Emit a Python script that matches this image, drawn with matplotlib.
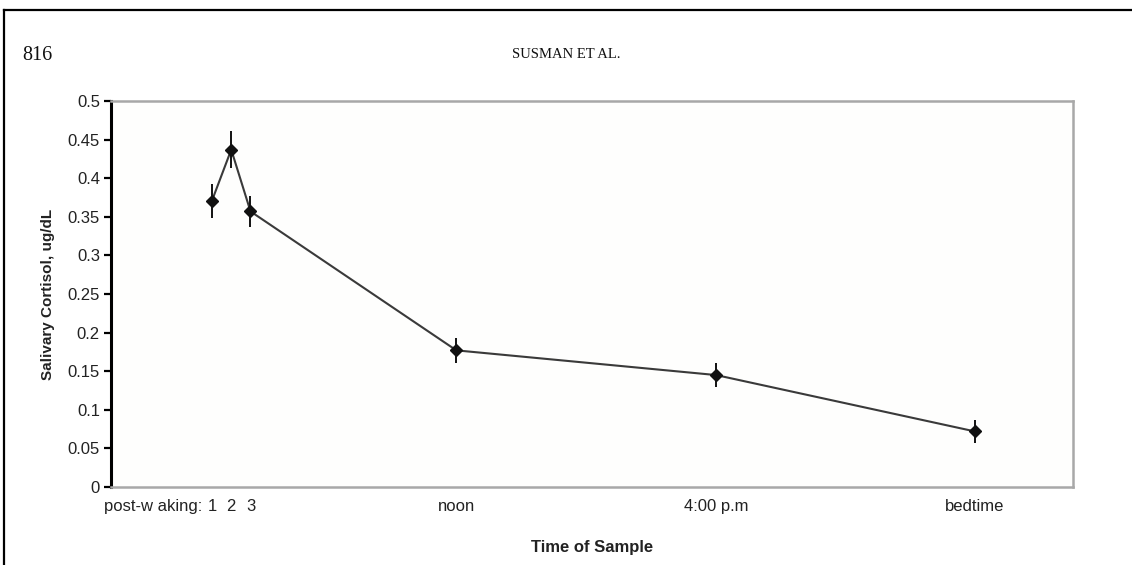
import matplotlib
matplotlib.use("Agg")
import matplotlib.pyplot as plt
from matplotlib.lines import Line2D
from matplotlib.transforms import blended_transform_factory, offset_copy

# Data
x_pos = [1.05, 1.25, 1.45, 3.59, 6.29, 8.98]
tick_labels = ["1", "2", "3", "noon", "4:00 p.m", "bedtime"]
cortisol = [0.371, 0.437, 0.357, 0.177, 0.145, 0.072]
sem = [0.022, 0.024, 0.020, 0.016, 0.016, 0.015]
y_ticks = [0, 0.05, 0.1, 0.15, 0.2, 0.25, 0.3, 0.35, 0.4, 0.45, 0.5]
y_tick_labels = ["0", "0.05", "0.1", "0.15", "0.2", "0.25", "0.3", "0.35", "0.4", "0.45", "0.5"]

W, H = 1132, 565
fig = plt.figure(figsize=(W / 100, H / 100), dpi=100)
fig.patch.set_facecolor("white")

# Page border (top and left)
fig.add_artist(Line2D([4 / W, 4 / W], [0, 1 - 10 / H], color="black", lw=1.6,
                      transform=fig.transFigure))
fig.add_artist(Line2D([4 / W, 1], [1 - 10 / H, 1 - 10 / H], color="black", lw=1.6,
                      transform=fig.transFigure))

# Header
fig.text(22 / W, 1 - 55 / H, "816", family="Liberation Serif", fontsize=14.5,
         ha="left", va="center", color="#111111")
fig.text(566 / W, 1 - 55 / H, "SUSMAN ET AL.", family="Liberation Serif", fontsize=10.5,
         ha="center", va="center", color="#111111")

ax = fig.add_axes([111 / W, 1 - 487 / H, (1073 - 111) / W, (487 - 101) / H])
ax.set_facecolor("#fefefd")

ax.plot(x_pos, cortisol, color="#3a3a3a", lw=1.5, zorder=2)
ax.errorbar(x_pos, cortisol, yerr=sem, fmt="none", ecolor="#111111", elinewidth=1.4,
            capsize=0, zorder=3)
ax.plot(x_pos, cortisol, linestyle="none", marker="D", markersize=6.5,
        color="#111111", zorder=4)

ax.set_xlim(0, 10)
ax.set_ylim(0, 0.5)
ax.set_yticks(y_ticks)
ax.set_yticklabels(y_tick_labels, family="Liberation Sans", fontsize=12, color="#222222")
ax.set_xticks(x_pos)
ax.set_xticklabels(tick_labels, family="Liberation Sans", fontsize=12, color="#222222")
xpad = 8.5
ax.tick_params(axis="x", length=0, pad=xpad)
ax.tick_params(axis="y", length=5, width=1.6, color="black", direction="out", pad=3)

trans = blended_transform_factory(ax.transData, ax.transAxes)
trans = offset_copy(trans, fig=fig, y=-xpad, units="points")
ax.text(0.95, 0.0, "post-w aking:", transform=trans, ha="right", va="top",
        family="Liberation Sans", fontsize=12, color="#222222")

for s in ["top", "right", "bottom"]:
    ax.spines[s].set_color("#a8a8a8")
    ax.spines[s].set_linewidth(1.8)
ax.spines["left"].set_color("black")
ax.spines["left"].set_linewidth(2.2)

ax.set_ylabel("Salivary Cortisol, ug/dL", family="Liberation Sans", fontsize=11,
              fontweight="bold", color="#222222", labelpad=9)
ax.set_xlabel("Time of Sample", family="Liberation Sans", fontsize=12,
              fontweight="bold", color="#222222", labelpad=19)

fig.savefig("out.png", dpi=100)
